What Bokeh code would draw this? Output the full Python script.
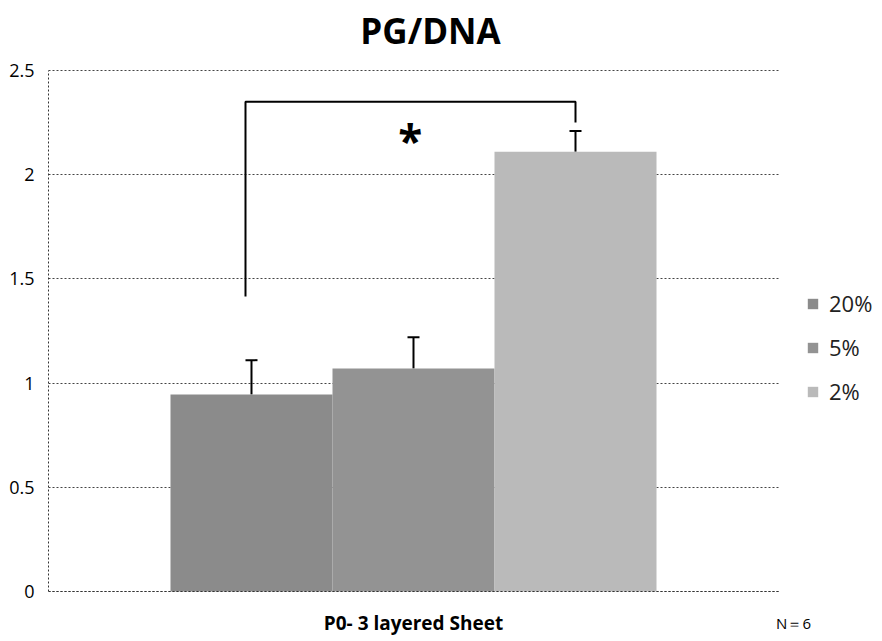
from bokeh.plotting import figure
from bokeh.models import (ColumnDataSource, Whisker, TeeHead, Legend, LegendItem,
                          FixedTicker, Label, Range1d)
from bokeh.core.properties import value
from bokeh.embed import file_html
from bokeh.resources import INLINE

# ---- data ----
title = "PG/DNA"
groups = ["20%", "5%", "2%"]
means = [0.945, 1.07, 2.11]
errors = [0.165, 0.15, 0.10]
category = "P0- 3 layered Sheet"
y_ticks = [0, 0.5, 1, 1.5, 2, 2.5]
y_tick_labels = ["0", "0.5", "1", "1.5", "2", "2.5"]
bracket_x = [-1.037, -1.037, 1.0, 1.0]
bracket_y = [1.415, 2.35, 2.35, 2.25]
sig_mark = "*"
note = "N\uff1d6"
colors = ["#8b8b8b", "#939393", "#bababa"]

positions = [-1, 0, 1]
uppers = [m + e for m, e in zip(means, errors)]

FONT = "Open Sans"
X0, X1 = -2.253, 2.265   # extent of the plotted category area
Y0, Y1 = 0, 2.5

p = figure(width=882, height=641, frame_width=834, frame_height=641,
           min_border_left=48, min_border_right=0, min_border_top=0,
           min_border_bottom=0,
           x_range=Range1d(X0, 2.895), y_range=Range1d(-0.2399, 2.8359),
           output_backend="svg", toolbar_location=None)

src = ColumnDataSource(dict(x=positions, top=means, upper=uppers, color=colors, label=groups))
renderers = []
for i in range(3):
    r = p.vbar(x=[positions[i]], top=[means[i]], width=1.0, bottom=0,
               fill_color=colors[i], line_color=None)
    renderers.append(r)

w = Whisker(source=src, base="x", lower="top", upper="upper",
            line_color="black", line_width=2,
            upper_head=TeeHead(size=12, line_color="black", line_width=2),
            lower_head=None)
p.add_layout(w)

p.line(bracket_x, bracket_y, line_color="black", line_width=2)
p.text(x=[-0.02], y=[2.165], text=[sig_mark], text_font=value(FONT),
       text_font_size="44px", text_font_style="bold", text_align="center",
       text_baseline="middle", text_color="black")

# title
p.add_layout(Label(x=0.105, y=2.692, text=title, text_font=FONT, text_font_size="35px",
                   text_font_style="bold", text_align="center", text_baseline="middle",
                   text_color="black"))

# axes
p.yaxis.ticker = FixedTicker(ticks=y_ticks)
p.yaxis.bounds = (Y0, Y1)
p.yaxis.major_label_overrides = {t: l for t, l in zip(y_ticks, y_tick_labels)}
p.yaxis.major_tick_line_color = None
p.yaxis.minor_tick_line_color = None
p.yaxis.axis_line_dash = "2 2"
p.yaxis.axis_line_color = "#333333"
p.yaxis.major_label_text_font = FONT
p.yaxis.major_label_text_font_size = "18px"
p.yaxis.major_label_text_color = "black"
p.yaxis.major_label_standoff = 8

p.xaxis.fixed_location = 0
p.xaxis.bounds = (X0, X1)
p.xaxis.ticker = FixedTicker(ticks=[0])
p.xaxis.major_label_overrides = {0: category}
p.xaxis.major_tick_line_color = None
p.xaxis.minor_tick_line_color = None
p.xaxis.axis_line_dash = "2 2"
p.xaxis.axis_line_color = "#333333"
p.xaxis.major_label_text_font = FONT
p.xaxis.major_label_text_font_size = "19px"
p.xaxis.major_label_text_font_style = "bold"
p.xaxis.major_label_text_color = "black"
p.xaxis.major_label_standoff = 12

p.xgrid.grid_line_color = None
p.ygrid.ticker = FixedTicker(ticks=y_ticks)
p.ygrid.cross_bounds = (X0, X1)
p.ygrid.grid_line_color = "#444444"
p.ygrid.grid_line_dash = "2 2"
p.ygrid.grid_line_width = 1
p.outline_line_color = None

legend = Legend(items=[LegendItem(label=groups[i], renderers=[renderers[i]]) for i in range(3)],
                location=(758, 235), border_line_color=None, background_fill_alpha=0,
                label_text_font=FONT, label_text_font_size="22px", label_text_color="#222222",
                glyph_width=13, glyph_height=13, label_height=20, spacing=14,
                padding=0, margin=0, label_standoff=10)
p.add_layout(legend, "center")

p.add_layout(Label(x=2.346, y=-0.149, text=note, text_font=FONT, text_font_size="15px",
                   text_align="center", text_baseline="middle", text_color="black"))

open("out.html", "w").write(file_html(p, INLINE))
